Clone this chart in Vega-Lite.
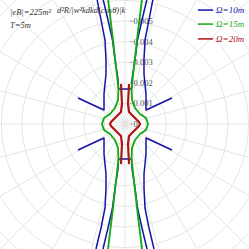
{
  "$schema": "https://vega.github.io/schema/vega-lite/v6.json",
  "width": 249, "height": 249, "padding": 0,
  "autosize": {"type": "none"},
  "config": {"view": {"stroke": null}},
  "datasets": {
    "curves": [
      {"s":"b","g":"b1","x":1.359,"y":6.068},{"s":"b","g":"b1","x":1.165,"y":5.049},{"s":"b","g":"b1","x":0.971,"y":4.078},{"s":"b","g":"b1","x":0.922,"y":3.107},{"s":"b","g":"b1","x":0.922,"y":2.427},{"s":"b","g":"b1","x":0.971,"y":1.942},{"s":"b","g":"b1","x":1.019,"y":1.456},{"s":"b","g":"b1","x":1.019,"y":0.971},{"s":"b","g":"b1","x":1.019,"y":0.68},{"s":"b","g":"b1","x":2.282,"y":1.262},
      {"s":"b","g":"b2","x":-1.359,"y":6.068},{"s":"b","g":"b2","x":-1.165,"y":5.049},{"s":"b","g":"b2","x":-0.971,"y":4.078},{"s":"b","g":"b2","x":-0.922,"y":3.107},{"s":"b","g":"b2","x":-0.922,"y":2.427},{"s":"b","g":"b2","x":-0.971,"y":1.942},{"s":"b","g":"b2","x":-1.019,"y":1.456},{"s":"b","g":"b2","x":-1.019,"y":0.971},{"s":"b","g":"b2","x":-1.019,"y":0.68},{"s":"b","g":"b2","x":-2.282,"y":1.262},
      {"s":"b","g":"b3","x":1.408,"y":-6.068},{"s":"b","g":"b3","x":1.165,"y":-5.049},{"s":"b","g":"b3","x":0.971,"y":-4.078},{"s":"b","g":"b3","x":0.922,"y":-3.107},{"s":"b","g":"b3","x":0.922,"y":-2.427},{"s":"b","g":"b3","x":0.971,"y":-1.942},{"s":"b","g":"b3","x":1.019,"y":-1.456},{"s":"b","g":"b3","x":1.019,"y":-0.971},{"s":"b","g":"b3","x":1.019,"y":-0.68},{"s":"b","g":"b3","x":2.282,"y":-1.262},
      {"s":"b","g":"b4","x":-1.408,"y":-6.068},{"s":"b","g":"b4","x":-1.165,"y":-5.049},{"s":"b","g":"b4","x":-0.971,"y":-4.078},{"s":"b","g":"b4","x":-0.922,"y":-3.107},{"s":"b","g":"b4","x":-0.922,"y":-2.427},{"s":"b","g":"b4","x":-0.971,"y":-1.942},{"s":"b","g":"b4","x":-1.019,"y":-1.456},{"s":"b","g":"b4","x":-1.019,"y":-0.971},{"s":"b","g":"b4","x":-1.019,"y":-0.68},{"s":"b","g":"b4","x":-2.282,"y":-1.262},
      {"s":"b","g":"b5","x":-1.068,"y":6.068},{"s":"b","g":"b5","x":-0.825,"y":5.049},{"s":"b","g":"b5","x":-0.607,"y":4.078},{"s":"b","g":"b5","x":-0.485,"y":3.107},{"s":"b","g":"b5","x":-0.34,"y":2.184},{"s":"b","g":"b5","x":-0.316,"y":1.699},{"s":"b","g":"b5","x":0.316,"y":1.699},{"s":"b","g":"b5","x":0.34,"y":2.184},{"s":"b","g":"b5","x":0.485,"y":3.107},{"s":"b","g":"b5","x":0.607,"y":4.078},{"s":"b","g":"b5","x":0.825,"y":5.049},{"s":"b","g":"b5","x":1.068,"y":6.068},
      {"s":"b","g":"b6","x":-1.068,"y":-6.068},{"s":"b","g":"b6","x":-0.825,"y":-5.049},{"s":"b","g":"b6","x":-0.607,"y":-4.078},{"s":"b","g":"b6","x":-0.485,"y":-3.107},{"s":"b","g":"b6","x":-0.34,"y":-2.184},{"s":"b","g":"b6","x":-0.316,"y":-1.699},{"s":"b","g":"b6","x":0.316,"y":-1.699},{"s":"b","g":"b6","x":0.34,"y":-2.184},{"s":"b","g":"b6","x":0.485,"y":-3.107},{"s":"b","g":"b6","x":0.607,"y":-4.078},{"s":"b","g":"b6","x":0.825,"y":-5.049},{"s":"b","g":"b6","x":1.068,"y":-6.068},
      {"s":"g","g":"g1","x":0.825,"y":6.068},{"s":"g","g":"g1","x":0.583,"y":4.078},{"s":"g","g":"g1","x":0.316,"y":1.699},{"s":"g","g":"g1","x":0.34,"y":1.165},{"s":"g","g":"g1","x":0.485,"y":0.777},{"s":"g","g":"g1","x":0.728,"y":0.485},{"s":"g","g":"g1","x":1.019,"y":0.291},{"s":"g","g":"g1","x":1.117,"y":0},{"s":"g","g":"g1","x":1.019,"y":-0.291},{"s":"g","g":"g1","x":0.728,"y":-0.485},{"s":"g","g":"g1","x":0.485,"y":-0.777},{"s":"g","g":"g1","x":0.34,"y":-1.165},{"s":"g","g":"g1","x":0.316,"y":-1.699},{"s":"g","g":"g1","x":0.583,"y":-4.078},{"s":"g","g":"g1","x":0.825,"y":-6.068},
      {"s":"g","g":"g2","x":-0.825,"y":6.068},{"s":"g","g":"g2","x":-0.583,"y":4.078},{"s":"g","g":"g2","x":-0.316,"y":1.699},{"s":"g","g":"g2","x":-0.34,"y":1.165},{"s":"g","g":"g2","x":-0.485,"y":0.777},{"s":"g","g":"g2","x":-0.728,"y":0.485},{"s":"g","g":"g2","x":-1.019,"y":0.291},{"s":"g","g":"g2","x":-1.117,"y":0},{"s":"g","g":"g2","x":-1.019,"y":-0.291},{"s":"g","g":"g2","x":-0.728,"y":-0.485},{"s":"g","g":"g2","x":-0.485,"y":-0.777},{"s":"g","g":"g2","x":-0.34,"y":-1.165},{"s":"g","g":"g2","x":-0.316,"y":-1.699},{"s":"g","g":"g2","x":-0.583,"y":-4.078},{"s":"g","g":"g2","x":-0.825,"y":-6.068},
      {"s":"r","g":"r1","x":0.194,"y":1.942},{"s":"r","g":"r1","x":0.146,"y":0.971},{"s":"r","g":"r1","x":0.194,"y":0.583},{"s":"r","g":"r1","x":0.388,"y":0.388},{"s":"r","g":"r1","x":0.68,"y":0.097},{"s":"r","g":"r1","x":0.728,"y":0},{"s":"r","g":"r1","x":0.68,"y":-0.097},{"s":"r","g":"r1","x":0.388,"y":-0.388},{"s":"r","g":"r1","x":0.194,"y":-0.583},{"s":"r","g":"r1","x":0.146,"y":-0.971},{"s":"r","g":"r1","x":0.194,"y":-1.942},
      {"s":"r","g":"r2","x":-0.194,"y":1.942},{"s":"r","g":"r2","x":-0.146,"y":0.971},{"s":"r","g":"r2","x":-0.194,"y":0.583},{"s":"r","g":"r2","x":-0.388,"y":0.388},{"s":"r","g":"r2","x":-0.68,"y":0.097},{"s":"r","g":"r2","x":-0.728,"y":0},{"s":"r","g":"r2","x":-0.68,"y":-0.097},{"s":"r","g":"r2","x":-0.388,"y":-0.388},{"s":"r","g":"r2","x":-0.194,"y":-0.583},{"s":"r","g":"r2","x":-0.146,"y":-0.971},{"s":"r","g":"r2","x":-0.194,"y":-1.942}
    ]
  },
  "layer": [
    {
      "data": {"values": [{"r":1},{"r":2},{"r":3},{"r":4},{"r":5},{"r":6},{"r":7},{"r":8},{"r":9}]},
      "mark": {"type": "point", "shape": "circle", "filled": false, "stroke": "#e2e2e2", "strokeWidth": 0.9, "opacity": 1},
      "encoding": {
        "x": {"datum": 0, "type": "quantitative", "scale": {"domain": [-6.068, 6.019], "nice": false, "zero": false}, "axis": null},
        "y": {"datum": 0, "type": "quantitative", "scale": {"domain": [-6.068, 6.019], "nice": false, "zero": false}, "axis": null},
        "size": {"field": "r", "type": "quantitative", "scale": {"type": "pow", "exponent": 2, "domain": [0, 1], "range": [0, 1697.4]}, "legend": null}
      }
    },
    {
      "data": {"values": [
        {"x":-9,"y":0,"x2":9,"y2":0},{"x":-8.693,"y":-2.329,"x2":8.693,"y2":2.329},{"x":-7.794,"y":-4.5,"x2":7.794,"y2":4.5},{"x":-6.364,"y":-6.364,"x2":6.364,"y2":6.364},{"x":-4.5,"y":-7.794,"x2":4.5,"y2":7.794},{"x":-2.329,"y":-8.693,"x2":2.329,"y2":8.693},{"x":0,"y":-9,"x2":0,"y2":9},{"x":2.329,"y":-8.693,"x2":-2.329,"y2":8.693},{"x":4.5,"y":-7.794,"x2":-4.5,"y2":7.794},{"x":6.364,"y":-6.364,"x2":-6.364,"y2":6.364},{"x":7.794,"y":-4.5,"x2":-7.794,"y2":4.5},{"x":8.693,"y":-2.329,"x2":-8.693,"y2":2.329}
      ]},
      "mark": {"type": "rule", "stroke": "#e2e2e2", "strokeWidth": 0.9},
      "encoding": {
        "x": {"field": "x", "type": "quantitative", "scale": {"domain": [-6.068, 6.019], "nice": false, "zero": false}, "axis": null},
        "y": {"field": "y", "type": "quantitative", "scale": {"domain": [-6.068, 6.019], "nice": false, "zero": false}, "axis": null},
        "x2": {"field": "x2"}, "y2": {"field": "y2"}
      }
    },
    {
      "data": {"values": [{"t":"0","v":0},{"t":"0.001","v":1},{"t":"0.002","v":2},{"t":"0.003","v":3},{"t":"0.004","v":4},{"t":"0.005","v":5}]},
      "layer": [
        {
          "mark": {"type": "rule", "stroke": "#888888", "strokeWidth": 0.8},
          "encoding": {
            "x": {"datum": 0.25, "type": "quantitative", "scale": {"domain": [-6.068, 6.019], "nice": false, "zero": false}, "axis": null},
            "x2": {"datum": 0.37},
            "y": {"field": "v", "type": "quantitative", "scale": {"domain": [-6.068, 6.019], "nice": false, "zero": false}, "axis": null}
          }
        },
        {
          "mark": {"type": "text", "align": "left", "baseline": "middle", "font": "Liberation Serif", "fontSize": 8.5, "fill": "#555555", "dx": 8.5},
          "encoding": {
            "x": {"datum": 0, "type": "quantitative", "scale": {"domain": [-6.068, 6.019], "nice": false, "zero": false}, "axis": null},
            "y": {"field": "v", "type": "quantitative", "scale": {"domain": [-6.068, 6.019], "nice": false, "zero": false}, "axis": null},
            "text": {"field": "t"}
          }
        }
      ]
    },
    {
      "data": {"name": "curves"},
      "mark": {"type": "line", "strokeJoin": "round"},
      "encoding": {
        "x": {"field": "x", "type": "quantitative", "scale": {"domain": [-6.068, 6.019], "nice": false, "zero": false}, "axis": null},
        "y": {"field": "y", "type": "quantitative", "scale": {"domain": [-6.068, 6.019], "nice": false, "zero": false}, "axis": null},
        "detail": {"field": "g"},
        "order": {"value": null},
        "color": {"field": "s", "type": "nominal", "scale": {"domain": ["b","g","r"], "range": ["#1414a8","#12aa12","#b01414"]}, "legend": null},
        "strokeWidth": {"field": "s", "type": "nominal", "scale": {"domain": ["b","g","r"], "range": [1.5, 2.2, 1.5]}, "legend": null}
      }
    },
    {
      "data": {"values": [{"s":"b","t":"Ω=10m","v":5.53},{"s":"g","t":"Ω=15m","v":4.85},{"s":"r","t":"Ω=20m","v":4.13}]},
      "layer": [
        {
          "mark": {"type": "rule", "strokeWidth": 1.5},
          "encoding": {
            "x": {"datum": 3.54, "type": "quantitative", "scale": {"domain": [-6.068, 6.019], "nice": false, "zero": false}, "axis": null},
            "x2": {"datum": 4.27},
            "y": {"field": "v", "type": "quantitative", "scale": {"domain": [-6.068, 6.019], "nice": false, "zero": false}, "axis": null},
            "color": {"field": "s", "type": "nominal", "scale": {"domain": ["b","g","r"], "range": ["#1414a8","#12aa12","#b01414"]}, "legend": null}
          }
        },
        {
          "mark": {"type": "text", "align": "left", "baseline": "middle", "font": "Liberation Serif", "fontStyle": "italic", "fontSize": 9},
          "encoding": {
            "x": {"datum": 4.42, "type": "quantitative", "scale": {"domain": [-6.068, 6.019], "nice": false, "zero": false}, "axis": null},
            "y": {"field": "v", "type": "quantitative", "scale": {"domain": [-6.068, 6.019], "nice": false, "zero": false}, "axis": null},
            "text": {"field": "t"},
            "color": {"field": "s", "type": "nominal", "scale": {"domain": ["b","g","r"], "range": ["#1414a8","#12aa12","#b01414"]}, "legend": null}
          }
        }
      ]
    },
    {
      "data": {"values": [{"t":"|eB|=225m²","x":-5.58,"y":5.44},{"t":"T=5m","x":-5.58,"y":4.81},{"t":"d²R/|w²kdkd(cosθ)|k","x":-3.3,"y":5.53}]},
      "mark": {"type": "text", "align": "left", "baseline": "middle", "font": "Liberation Serif", "fontStyle": "italic", "fontSize": 8.5, "fill": "#333333"},
      "encoding": {
        "x": {"field": "x", "type": "quantitative", "scale": {"domain": [-6.068, 6.019], "nice": false, "zero": false}, "axis": null},
        "y": {"field": "y", "type": "quantitative", "scale": {"domain": [-6.068, 6.019], "nice": false, "zero": false}, "axis": null},
        "text": {"field": "t"}
      }
    }
  ]
}
